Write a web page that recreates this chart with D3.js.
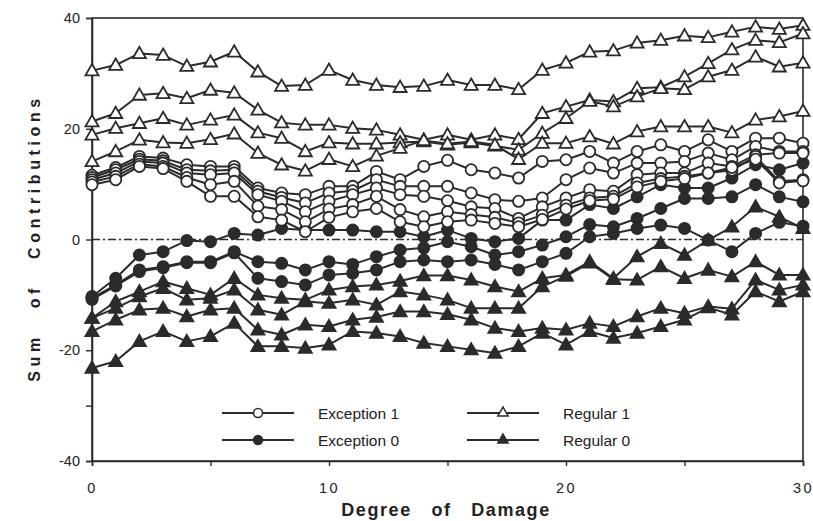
<!DOCTYPE html>
<html>
<head>
<meta charset="utf-8">
<script src="https://cdn.jsdelivr.net/npm/d3@7"></script>
<style>
  html, body { margin: 0; padding: 0; background: #fff; }
  svg { display: block; font-family: "Liberation Sans", Arial, Helvetica, sans-serif; }
</style>
</head>
<body>
<svg id="chart" width="813" height="521"></svg>
<script>
// Degree of damage (x) for every series
const degrees = [0,1,2,3,4,5,6,7,8,9,10,11,12,13,14,15,16,17,18,19,20,21,22,23,24,25,26,27,28,29,30];

// Exception 1 (open circles)
const exception1 = [
  [11.6,13.0,15.0,14.7,13.5,13.2,13.2,9.3,8.4,8.1,9.6,9.6,12.3,10.8,13.2,14.3,12.6,12.0,11.1,14.1,14.4,15.9,13.8,15.9,17.1,15.9,18.0,15.9,18.3,18.3,17.4],
  [11.2,12.6,14.5,14.2,12.6,12.4,12.6,8.7,7.6,6.6,8.4,8.8,10.8,9.6,9.6,9.6,8.4,7.2,6.9,7.5,10.8,12.9,12.0,13.8,13.8,14.1,15.6,14.4,16.8,15.9,15.9],
  [10.8,12.0,14.1,13.8,12.0,11.7,12.0,8.1,6.9,5.0,6.9,8.1,9.3,8.1,7.8,7.0,5.9,5.6,3.8,5.9,7.5,9.0,8.7,11.7,12.0,12.0,13.8,13.2,15.3,15.6,15.6],
  [10.4,11.4,13.6,13.2,11.2,9.9,10.5,6.0,5.4,3.2,5.5,6.3,7.8,5.4,4.1,5.0,4.5,4.0,3.0,4.4,6.2,7.5,7.8,10.2,11.0,11.4,12.0,12.5,15.0,10.5,10.8],
  [9.9,10.8,13.2,12.8,10.5,7.8,7.8,4.1,3.5,1.4,4.0,5.0,5.6,3.2,2.3,3.2,3.5,2.9,2.3,3.6,5.5,7.0,7.3,9.5,10.5,11.0,12.0,13.0,14.5,10.2,10.6]
];

// Exception 0 (filled circles)
const exception0 = [
  [-10.3,-7.0,-2.8,-2.2,-0.2,-0.4,1.1,0.8,2.0,1.7,1.7,1.7,1.4,1.4,0.5,1.7,0.2,-0.4,0.2,3.5,3.5,6.3,5.6,7.7,9.9,9.3,9.3,11.1,13.5,12.6,13.8],
  [-10.6,-8.2,-5.5,-4.9,-4.0,-4.0,-2.2,-4.0,-4.3,-5.5,-4.0,-4.5,-3.1,-1.9,-1.5,-0.4,-1.3,-2.8,-2.2,-1.0,0.5,2.7,2.3,3.8,5.6,7.4,7.4,7.7,9.9,7.7,6.8],
  [-10.8,-8.4,-5.8,-5.1,-4.2,-4.2,-2.4,-7.0,-7.6,-8.2,-6.4,-6.1,-5.5,-4.0,-3.7,-4.0,-3.7,-4.5,-5.5,-4.0,-2.5,0.5,1.1,2.0,2.6,2.0,-0.1,-2.2,1.1,3.1,2.4]
];

// Regular 1 (open triangles)
const regular1 = [
  [30.5,31.5,33.6,33.3,31.3,32.1,33.9,30.3,27.7,27.9,30.6,28.8,27.9,27.5,27.7,28.8,27.9,27.9,27.1,30.6,31.9,33.9,34.1,35.5,36.0,36.8,36.5,37.5,38.4,38.0,38.7],
  [21.3,22.8,26.1,26.4,25.5,27.0,26.5,23.4,21.1,20.7,20.7,20.1,19.8,18.9,18.0,18.9,18.0,18.9,18.1,22.8,24.0,25.2,24.9,27.3,27.5,29.4,31.8,34.3,36.0,35.6,37.2],
  [18.9,20.1,21.0,21.9,20.7,21.6,22.5,19.3,18.3,15.9,17.5,17.3,17.3,17.5,17.7,17.1,17.5,16.9,16.2,19.2,21.9,25.0,24.0,25.8,27.3,27.1,29.4,30.6,33.0,31.2,31.9],
  [14.1,15.9,18.0,17.5,17.4,18.1,19.1,15.6,13.5,12.4,14.5,13.2,15.1,16.5,17.9,17.3,17.7,17.1,14.5,17.4,17.4,18.6,17.3,19.5,20.4,20.4,20.4,19.3,21.6,22.2,23.2]
];

// Regular 0 (filled triangles)
const regular0 = [
  [-14.2,-11.2,-9.4,-7.6,-8.8,-10.0,-7.0,-10.0,-10.6,-10.9,-9.1,-8.5,-8.2,-7.5,-6.5,-6.5,-7.3,-8.5,-9.4,-7.0,-6.4,-4.0,-7.0,-3.1,-0.7,-2.8,-0.1,2.3,5.9,4.1,2.0],
  [-14.2,-12.4,-10.3,-8.8,-10.9,-10.6,-9.1,-12.7,-13.6,-11.2,-11.5,-10.9,-11.8,-9.4,-10.0,-10.9,-12.4,-12.4,-12.4,-8.5,-6.6,-4.2,-7.2,-7.3,-4.9,-7.0,-5.5,-6.7,-4.0,-6.4,-6.4],
  [-16.6,-14.5,-12.7,-12.4,-13.9,-12.7,-12.4,-16.3,-17.2,-15.4,-15.7,-14.5,-14.0,-13.0,-13.0,-13.5,-14.5,-16.0,-16.6,-16.0,-16.3,-15.1,-15.7,-13.9,-12.4,-13.3,-12.1,-12.5,-7.3,-9.1,-8.2],
  [-23.2,-22.0,-18.4,-16.6,-18.4,-17.5,-15.1,-19.3,-19.3,-19.6,-19.0,-16.6,-16.9,-17.5,-18.7,-19.3,-19.9,-20.5,-19.3,-16.9,-19.0,-16.6,-17.8,-16.9,-15.7,-14.5,-12.3,-13.6,-9.4,-11.2,-9.4]
];

const yTickValues = [-40,-20,0,20,40];
const xTickValues = [0,10,20,30];
const legendItems = [
  {label: "Exception 1", shape: "circle", filled: false},
  {label: "Exception 0", shape: "circle", filled: true},
  {label: "Regular 1", shape: "triangle", filled: false},
  {label: "Regular 0", shape: "triangle", filled: true}
];

const ink = "#2b2b2b";
const svg = d3.select("#chart");
const x = d3.scaleLinear().domain([0, 30]).range([92, 803]);
const y = d3.scaleLinear().domain([-40, 40]).range([461, 18]);

// frame
svg.append("rect")
  .attr("x", x(0)).attr("y", y(40))
  .attr("width", x(30) - x(0)).attr("height", y(-40) - y(40))
  .attr("fill", "none").attr("stroke", ink).attr("stroke-width", 1.6);

// zero reference line (dash-dot)
svg.append("line")
  .attr("x1", x(0)).attr("x2", x(30))
  .attr("y1", y(0)).attr("y2", y(0))
  .attr("stroke", ink).attr("stroke-width", 1.6)
  .attr("stroke-dasharray", "8,3,2,3");

// axes
const yAxis = d3.axisLeft(y).tickValues([-40,-30,-20,-10,0,10,20,30,40])
  .tickSize(6).tickFormat(d => yTickValues.includes(d) ? d : "");
const gy = svg.append("g").attr("transform", `translate(${x(0)},0)`).call(yAxis);
const xAxis = d3.axisBottom(x).tickValues([0,5,10,15,20,25,30])
  .tickSize(5).tickFormat(d => xTickValues.includes(d) ? d : "");
const gx = svg.append("g").attr("transform", `translate(0,${y(-40)})`).call(xAxis);
[gx, gy].forEach(g => {
  g.select(".domain").attr("stroke", ink).attr("stroke-width", 1.6);
  g.selectAll(".tick line").attr("stroke", ink).attr("stroke-width", 1.4);
  g.selectAll(".tick text").attr("fill", "#222").attr("font-size", 14.5)
    .attr("font-family", "'Liberation Sans', Arial, sans-serif");
});
gy.selectAll(".tick text").attr("x", -12);
gx.selectAll(".tick text").attr("y", 22).attr("letter-spacing", "2.5px");

// series
const line = d3.line().x((d, i) => x(degrees[i])).y(d => y(d));
const triangle = d3.symbol().type(d3.symbolTriangle).size(74);

function drawLines(group) {
  group.forEach(vals => {
    svg.append("path").datum(vals).attr("d", line)
      .attr("fill", "none").attr("stroke", ink).attr("stroke-width", 2)
      .attr("stroke-linejoin", "round");
  });
}
function drawCircles(group, filled) {
  group.forEach(vals => {
    svg.append("g").selectAll("circle").data(vals).join("circle")
      .attr("cx", (d, i) => x(degrees[i])).attr("cy", d => y(d)).attr("r", 5.6)
      .attr("fill", filled ? ink : "#fff").attr("stroke", ink).attr("stroke-width", 1.8);
  });
}
function drawTriangles(group, filled) {
  group.forEach(vals => {
    svg.append("g").selectAll("path").data(vals).join("path")
      .attr("d", triangle)
      .attr("transform", (d, i) => `translate(${x(degrees[i])},${y(d) + 1})`)
      .attr("fill", filled ? ink : "#fff").attr("stroke", ink).attr("stroke-width", 1.8);
  });
}

drawLines(regular0); drawLines(exception0); drawLines(exception1); drawLines(regular1);
drawTriangles(regular0, true);
drawCircles(exception0, true);
drawCircles(exception1, false);
drawTriangles(regular1, false);

// legend
const legendPos = [
  {lx: 222, ty: 413}, {lx: 222, ty: 440}, {lx: 467, ty: 413}, {lx: 467, ty: 440}
];
legendItems.forEach((item, k) => {
  const p = legendPos[k];
  const g = svg.append("g");
  g.append("line").attr("x1", p.lx).attr("x2", p.lx + 72)
    .attr("y1", p.ty).attr("y2", p.ty).attr("stroke", ink).attr("stroke-width", 1.8);
  const mx = p.lx + 36;
  if (item.shape === "circle") {
    g.append("circle").attr("cx", mx).attr("cy", p.ty).attr("r", 4.5)
      .attr("fill", item.filled ? ink : "#fff").attr("stroke", ink).attr("stroke-width", 1.5);
  } else {
    g.append("path").attr("d", d3.symbol().type(d3.symbolTriangle).size(46))
      .attr("transform", `translate(${mx},${p.ty})`)
      .attr("fill", item.filled ? ink : "#fff").attr("stroke", ink).attr("stroke-width", 1.5);
  }
  g.append("text").attr("x", p.lx + 96).attr("y", p.ty + 5.5)
    .attr("font-size", 15.5).attr("fill", "#222").text(item.label);
});

// axis titles
svg.append("text").attr("x", 446).attr("y", 516).attr("text-anchor", "middle")
  .attr("font-size", 18).attr("font-weight", "bold").attr("fill", "#222")
  .attr("letter-spacing", "1.6px").attr("word-spacing", "13px")
  .text("Degree of Damage");
svg.append("text").attr("transform", "translate(40,238) rotate(-90)")
  .attr("text-anchor", "middle").attr("font-size", 16).attr("font-weight", "bold")
  .attr("fill", "#222").attr("letter-spacing", "4.6px").attr("word-spacing", "16px")
  .text("Sum of Contributions");
</script>
</body>
</html>
